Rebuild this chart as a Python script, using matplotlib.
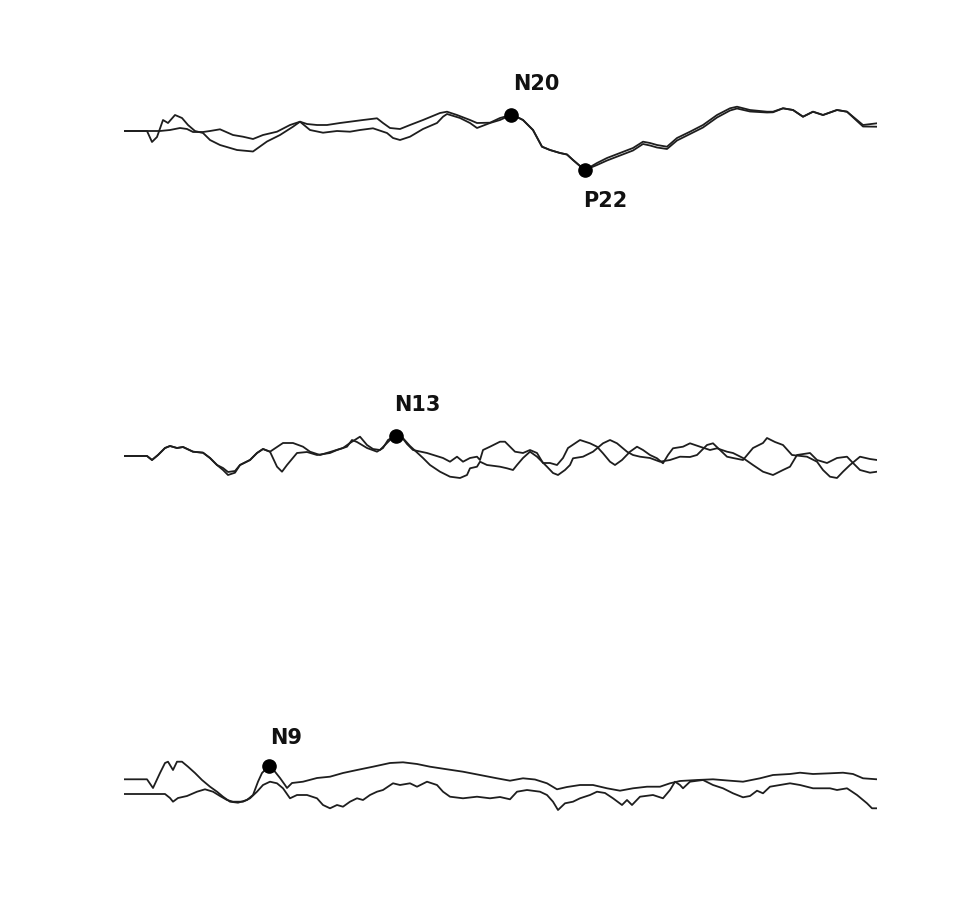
"""Three-channel evoked potential traces (cortical / cervical / peripheral) with labelled peaks."""
import matplotlib
matplotlib.use("Agg")
import matplotlib.pyplot as plt

# ── data: sample index (x) and amplitude (y), two overlaid runs per channel ──
# channel 1 (cortical)
t_c1_a = [0, 23, 28, 33, 39, 44, 51, 58, 64, 71, 79, 86, 96, 113, 129, 143, 156, 169, 176,
          183, 193, 203, 216, 226, 239, 253, 259, 266, 276, 286, 299, 316, 323, 333, 346, 353,
          366, 376, 387, 393, 399, 409, 418, 426, 436, 443, 449, 456, 461, 473, 483, 496, 509,
          519, 526, 533, 543, 553, 566, 579, 593, 606, 613, 626, 643, 649, 659, 669, 679, 689,
          699, 713, 723, 733, 739, 753]
v_c1_a = [0, 0, -11, -6, 11, 8, 16, 13, 6, 0, -2, -9, -14, -19, -20.5, -10.5, -4, 4.3, 9.3,
          7, 6, 6, 8, 9.3, 11, 12.7, 8, 3, 2, 6, 11, 18, 19.3, 16, 11, 8,
          8.3, 13, 16, 14, 11, 1, -15.7, -19, -22, -23.5, -29, -35, -39, -32, -27, -22, -17,
          -10.7, -12, -14, -15.7, -7, -0.7, 6, 16, 22.7, 24.3, 21, 19.3, 19.3, 22.7, 21, 14.3, 19.3,
          16, 21, 19.3, 11, 6, 7.7]
t_c1_b = [0, 23, 36, 46, 56, 63, 69, 79, 86, 96, 109, 119, 129, 139, 153, 166, 176, 186, 199,
          213, 226, 236, 249, 263, 269, 276, 286, 299, 313, 319, 323, 336, 346, 353, 366, 376,
          387, 393, 399, 409, 418, 426, 436, 443, 449, 456, 461, 473, 483, 496, 509, 519, 526,
          533, 543, 553, 566, 579, 593, 606, 613, 626, 643, 649, 659, 669, 679, 689, 699, 713,
          723, 733, 739, 753]
v_c1_b = [0, 0, 0, 1, 3, 2, -1, -1, 0, 1.7, -4, -5.7, -8, -4, -0.7, 6, 9.3, 1, -1.7,
          0, -0.7, 1, 2.7, -2, -7, -9, -5.7, 2, 8, 14.3, 17, 13, 8, 3, 8, 11,
          16, 14, 11, 1, -15.7, -19, -22, -23.5, -29, -35, -39, -34, -29.5, -24.5, -19.5, -13, -14.5,
          -16.5, -18, -9.5, -3, 3.5, 13.5, 20.5, 22.5, 19.5, 18.5, 18.7, 22.7, 21, 14.3, 19.3, 16, 21,
          19.3, 10, 4.5, 4.3]

# channel 2 (cervical)
t_c2_a = [0, 23, 28, 34, 41, 46, 53, 59, 69, 79, 86, 93, 99, 104, 111, 116, 126, 133, 139, 146,
          153, 158, 163, 173, 183, 193, 206, 213, 223, 228, 233, 243, 253, 259, 264, 271,
          277, 283, 289, 303, 319, 326, 333, 339, 346, 353, 356,
          359, 366, 376, 381, 386, 391, 399, 406, 413, 419, 426, 433, 439, 444, 446, 456, 466, 473,
          479, 486, 491, 498, 506, 513, 519, 526, 533, 539, 544, 549, 559, 566, 576, 586, 593, 603,
          609, 619, 629, 639, 649, 659, 666, 673, 686, 693, 703, 713, 723, 729, 736, 746, 753]
v_c2_a = [0, 0, -4, 1, 8, 10, 8, 9, 4.3, 3.3, -2, -9, -14, -19, -16.7, -9, -4, 3, 7, 4.3,
          -10.7, -15.7, -9, 3, 4, 1, 3, 6, 9.3, 16, 14, 8, 4.3, 8, 16, 20,
          20, 12, 6, 3, -2, -5.7, -0.7, -5.7, -2, -0.7, -4,
          6, 9.3, 14.3, 14.3, 9.3, 4.3, 3, 6, 3, -7, -7, -9, -2, 8, 9.3, 16, 12.7, 9.3,
          2.7, -5.7, -9, -4, 4.3, 9.3, 6, 1, -2.3, -7.3, 1, 7.7, 9.3, 12.7, 9.3, 6, 7.7, 4.3,
          3, -2, -9, -15.7, -19, -14, -10.7, 1, 3, -4, -7, -2, -0.7, -7, -14, -16.7, -15.7]
t_c2_b = [0, 23, 28, 34, 41, 46, 53, 59, 69, 79, 86, 93, 99, 104, 111, 116, 126, 133, 139, 146,
          153, 159, 169, 179, 186, 196, 206, 219, 226, 236, 243, 249, 256, 263, 268, 271,
          277, 286, 299, 306, 316, 326, 336, 343, 346, 353, 356,
          363, 376, 383, 389, 393, 399, 406, 413, 423, 429, 434, 441, 446, 449, 459, 469, 479, 486,
          493, 503, 509, 516, 526, 536, 546, 556, 566, 573, 583, 589, 596, 603,
          609, 619, 629, 639, 643, 651, 659, 668, 683, 693, 699, 706, 713, 719, 726, 736, 746, 753]
v_c2_b = [0, 0, -4, 1, 8, 10, 8, 9, 4.3, 3.3, -2, -9, -12, -16, -15, -9, -4, 3, 7, 4.3,
          9, 13, 13, 9.3, 4.3, 1, 4, 8, 13, 19.3, 11, 7, 6, 13, 18, 20,
          20, 10, -2, -9, -15.7, -20.7, -22, -19, -12.3, -10.7, -5.7,
          -9, -10.7, -12.3, -14, -9, -2, 4.3, -0.7, -10.7, -17, -19, -14, -9, -2.3, -0.7, 4.3, 12.7, 16,
          12.7, 4.3, 1, -0.7, -2, -5.7, -4, -0.7, -1, 1, 11, 12.7, 6, -0.7,
          -2, -4, 8, 13, 18, 14, 11, 1, -0.7, -5.7, -14, -20.7, -22, -15.7, -9, -0.7, -3, -4]

# channel 3 (peripheral)
t_c3_a = [0, 23, 29, 36, 41, 44, 49, 53, 58, 64, 71, 78, 86, 93, 99, 106, 114, 123, 129, 134,
          138, 145, 151, 156, 161, 163, 168, 179, 193, 206, 219, 233, 249, 266, 279, 293, 306,
          323, 339, 356, 373, 386, 399, 411, 423, 433, 443, 456, 469, 483, 496, 509, 523, 536,
          546, 556, 573, 589, 606, 619, 636, 649, 666, 676, 689, 706, 719, 729, 739, 753]
v_c3_a = [14.7, 14.7, 6, 21, 31, 32.3, 24, 32.3, 32.3, 27.3, 21, 14, 7.3, 2.3, -2.7, -7.7, -8.7, -6, -1, 12.3,
          21, 28, 22.3, 16, 9, 6, 11, 12.3, 16, 17.3, 21, 24, 27.3, 31, 31.7, 30, 27.3,
          24.7, 22.3, 19, 15.7, 13.3, 15.7, 14.5, 10.7, 4.7, 7, 9, 9, 5.7, 3.3, 5.7, 7.3, 7.3,
          10.7, 13, 14, 14.7, 13.3, 12.3, 15.7, 19, 20, 21.3, 20, 20.7, 21.3, 20, 15.7, 14.7]
t_c3_b = [0, 41, 46, 49, 54, 63, 73, 81, 89, 96, 103, 109, 119, 126, 133, 139, 146, 153, 159,
          166, 173, 183, 193, 199, 206, 213, 219, 226, 233, 239, 246, 253, 259, 269, 276, 286,
          293, 303, 313, 319, 326, 339, 353, 366, 376, 386, 393, 403, 416, 423, 429, 434, 441,
          449, 456, 466, 473, 481, 489, 498, 503, 508, 516, 529, 539, 546, 551, 556, 559, 566,
          579, 589, 599, 609, 619, 626, 633, 639, 646, 656, 666, 676, 689, 706, 713, 723, 733,
          743, 748, 753]
v_c3_b = [0, 0, -4, -7.7, -4, -2, 2.3, 4.7, 2.3, -2, -6, -7.7, -7.7, -4.3, 2.3, 9, 12.3, 10.7, 5.7,
          -4.3, -1, -1, -4.3, -11, -14.3, -11, -12.7, -7.7, -4.3, -6, -1, 2.3, 4, 10.7, 9, 10.7,
          7.3, 12.3, 9, 2.3, -2.7, -4.3, -2.7, -4.3, -3, -5.3, 2.3, 4, 2.3, -1, -7.7, -16, -9.3,
          -7.7, -4.3, -1, 2.3, 1, -4.3, -11, -6, -11, -2.7, -1, -4.3, 4, 12.3, 9, 5.7, 12.3,
          14, 9, 5.7, 0.7, -3.3, -2, 3.3, 0.7, 7.3, 9, 10.7, 9, 5.7, 5.7, 4, 5.7, -1,
          -9.3, -14.3, -14.3]

# labelled peaks per channel
peak_names = [["N20", "P22"], ["N13"], ["N9"]]
peak_t = [[387, 461], [272], [145]]
peak_v = [[16, -39], [20], [28]]
# label offset (pixels) for each peak: above for N, below for P
peak_off = [[(25, 31), (20, -31)], [(21, 31)], [(17, 28)]]

channels = [
    [(t_c1_a, v_c1_a), (t_c1_b, v_c1_b)],
    [(t_c2_a, v_c2_a), (t_c2_b, v_c2_b)],
    [(t_c3_a, v_c3_a), (t_c3_b, v_c3_b)],
]

# ── figure ──
W, H = 965, 914
fig = plt.figure(figsize=(W / 100, H / 100), dpi=100)
base_px = [131, 456, 794]  # vertical position of each channel's zero line

for i, runs in enumerate(channels):
    b = base_px[i]
    ax = fig.add_axes([124 / W, 1 - (b + 100) / H, 753 / W, 200 / H])
    ax.set_xlim(0, 753)
    ax.set_ylim(-100, 100)
    ax.axis("off")
    for t, v in runs:
        ax.plot(t, v, color="#1e1e1e", lw=1.3, solid_joinstyle="round")
    for name, pt, pv, off in zip(peak_names[i], peak_t[i], peak_v[i], peak_off[i]):
        ax.plot(pt, pv, "o", color="black", ms=9.5, zorder=5)
        ax.annotate(name, (pt, pv), xytext=off, textcoords="offset pixels",
                    ha="center", va="center", fontsize=15, fontweight="bold",
                    family="DejaVu Sans", color="#111111")

fig.savefig("out.png", dpi=100)
